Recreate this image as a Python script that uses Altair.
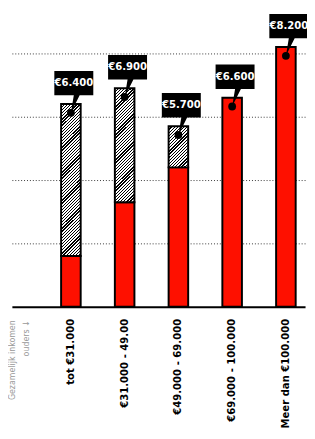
import altair as alt
import pandas as pd

categories = ["tot €31.000", "€31.000 - 49.00", "€49.000 - 69.000", "€69.000 - 100.000", "Meer dan €100.000"]
totals = [6400, 6900, 5700, 6600, 8200]
red_part = [1600, 3300, 4400, 6600, 8200]
labels = ["€6.400", "€6.900", "€5.700", "€6.600", "€8.200"]
grid_values = [2000, 4000, 6000, 8000]

W_PLOT, H_PLOT = 301, 301
Y_MAX = 9260
RED = "#fe1000"
FONT = "Liberation Sans Narrow, DejaVu Sans Condensed, Liberation Sans"

df = pd.DataFrame({"cat": categories, "total": totals, "red": red_part, "label": labels})

x_scale = alt.Scale(domain=categories, paddingInner=0.636, paddingOuter=0.545, align=0.84)
y_scale = alt.Scale(domain=[0, Y_MAX], nice=False, zero=True)

x_enc = alt.X("cat:N", scale=x_scale, sort=categories, title=None,
              axis=alt.Axis(labelAngle=270, labelAlign="right", labelBaseline="middle",
                            labelFont=FONT, labelFontSize=11.5, labelFontWeight="bold",
                            labelColor="black", labelPadding=12, ticks=False,
                            domainColor="black", domainWidth=2, grid=False,
                            labelLimit=200))
y_axis = alt.Axis(values=grid_values, labels=False, ticks=False, domain=False, title=None,
                  grid=True, gridColor="#333", gridDash=[1, 2], gridWidth=1)

base = alt.Chart(df)

red_bars = base.mark_bar(fill=RED, stroke="black", strokeWidth=2).encode(
    x=x_enc,
    y=alt.Y("red:Q", scale=y_scale, axis=y_axis),
    y2=alt.Y2(datum=0),
)


def hatch(h_px, w_px=20.0, period=3.2, black=1.3):
    k = h_px / w_px
    a = (1 + k) / (1 + k * k)
    span = w_px + h_px
    stops = []
    pos = 0.0
    while pos < span:
        t0 = pos / span
        t1 = min((pos + black) / span, 1.0)
        t2 = min((pos + period) / span, 1.0)
        stops += [alt.GradientStop(offset=t0, color="black"),
                  alt.GradientStop(offset=t1, color="black"),
                  alt.GradientStop(offset=t1, color="white"),
                  alt.GradientStop(offset=t2, color="white")]
        pos += period
    return alt.LinearGradient(gradient="linear", stops=stops, x1=0, y1=0, x2=a, y2=a * k)


hatch_layers = []
for c, t, r in zip(categories, totals, red_part):
    if t > r:
        h_px = (t - r) * H_PLOT / Y_MAX
        hatch_layers.append(
            base.transform_filter(alt.datum.cat == c)
            .mark_bar(fill=hatch(h_px), stroke="black", strokeWidth=2)
            .encode(x=alt.X("cat:N", scale=x_scale, sort=categories),
                    y=alt.Y("total:Q", scale=y_scale), y2="red:Q")
        )

callout_path = ("M-0.425,-0.85 L0.575,-0.85 L0.575,-0.225 L0.225,-0.225 L0,0.225 "
                "L0.075,-0.225 L-0.425,-0.225 Z")
callouts = base.mark_point(shape=callout_path, size=6400, filled=True, fill="black",
                           stroke="black", strokeWidth=0, opacity=1).encode(
    x=alt.X("cat:N", scale=x_scale, sort=categories),
    y=alt.Y("total:Q", scale=y_scale),
)
dots = base.mark_circle(size=64, color="black", opacity=1, yOffset=9).encode(
    x=alt.X("cat:N", scale=x_scale, sort=categories),
    y=alt.Y("total:Q", scale=y_scale),
)
texts = base.mark_text(color="white", font=FONT, fontSize=11.5, fontWeight="bold",
                       dx=3, dy=-21.5, align="center", baseline="middle").encode(
    x=alt.X("cat:N", scale=x_scale, sort=categories),
    y=alt.Y("total:Q", scale=y_scale),
    text="label:N",
)
axis_note = alt.Chart(pd.DataFrame({"t": [["Gezamelijk inkomen", "ouders ↓"]]})).mark_text(
    angle=270, align="right", baseline="top", font=FONT, fontSize=9, color="#999",
    lineHeight=15).encode(x=alt.value(-4), y=alt.value(315), text="t")

chart = alt.layer(red_bars, *hatch_layers, dots, callouts, texts, axis_note).properties(
    width=W_PLOT, height=H_PLOT,
    autosize=alt.AutoSizeParams(type="none"),
    padding={"left": 4, "top": 0, "right": 2, "bottom": 122},
).configure_view(stroke=None)

chart.save("out.html", embed_options={"renderer": "svg", "actions": False})
